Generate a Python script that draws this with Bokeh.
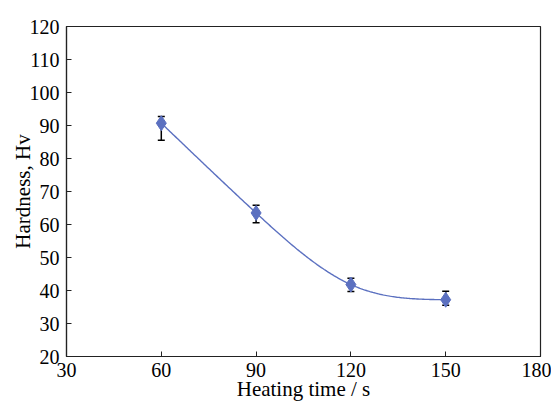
import numpy as np
from bokeh.plotting import figure
from bokeh.models import Whisker, ColumnDataSource, FixedTicker, Range1d
from bokeh.embed import file_html
from bokeh.resources import INLINE

heating_time = [60, 90, 120, 150]
hardness = [90.7, 63.5, 41.8, 37.2]
err_upper = [92.7, 65.8, 43.7, 39.8]
err_lower = [85.5, 60.5, 39.7, 35.5]
x_ticks = [30, 60, 90, 120, 150, 180]
y_ticks = [20, 30, 40, 50, 60, 70, 80, 90, 100, 110, 120]
x_title = "Heating time / s"
y_title = "Hardness, Hv"

def natural_spline(x, y, n=200):
    x = np.asarray(x, float); y = np.asarray(y, float)
    k = len(x); h = np.diff(x)
    A = np.zeros((k, k)); b = np.zeros(k)
    A[0, 0] = A[-1, -1] = 1
    for i in range(1, k - 1):
        A[i, i - 1] = h[i - 1]; A[i, i] = 2 * (h[i - 1] + h[i]); A[i, i + 1] = h[i]
        b[i] = 6 * ((y[i + 1] - y[i]) / h[i] - (y[i] - y[i - 1]) / h[i - 1])
    M = np.linalg.solve(A, b)
    xs = np.linspace(x[0], x[-1], n); ys = np.empty_like(xs)
    for j, t in enumerate(xs):
        i = min(np.searchsorted(x, t, side="right") - 1, k - 2)
        a = x[i + 1] - t; c = t - x[i]
        ys[j] = (M[i] * a**3 + M[i + 1] * c**3) / (6 * h[i]) + (y[i] / h[i] - M[i] * h[i] / 6) * a + (y[i + 1] / h[i] - M[i + 1] * h[i] / 6) * c
    return xs, ys

FONT = "Liberation Serif"
p = figure(width=551, height=408, output_backend="svg", toolbar_location=None,
           x_range=Range1d(30, 180), y_range=Range1d(20, 120),
           min_border_left=66, min_border_right=11, min_border_top=26, min_border_bottom=52)
p.grid.visible = False
p.outline_line_color = "#222222"
p.outline_line_width = 1.2

for ax in (p.xaxis[0], p.yaxis[0]):
    ax.major_tick_in = 5
    ax.major_tick_out = 0
    ax.minor_tick_in = 0
    ax.minor_tick_out = 0
    ax.axis_line_color = "#222222"
    ax.axis_line_width = 1.2
    ax.major_tick_line_color = "#222222"
    ax.major_label_text_font = FONT
    ax.major_label_text_font_size = "20px"
    ax.major_label_text_color = "black"
    ax.axis_label_text_font = FONT
    ax.axis_label_text_font_size = "21px"
    ax.axis_label_text_font_style = "normal"
    ax.axis_label_text_color = "black"

p.xaxis[0].ticker = FixedTicker(ticks=x_ticks)
p.yaxis[0].ticker = FixedTicker(ticks=y_ticks)
p.xaxis[0].axis_label = x_title
p.yaxis[0].axis_label = y_title
p.xaxis[0].major_label_standoff = 6
p.xaxis[0].axis_label_standoff = -3
p.yaxis[0].major_label_standoff = 7
p.yaxis[0].axis_label_standoff = -8

xs, ys = natural_spline(heating_time, hardness)
p.line(xs, ys, line_color="#5b70c0", line_width=1.4)

src = ColumnDataSource(dict(x=heating_time, y=hardness, up=err_upper, lo=err_lower))
w = Whisker(source=src, base="x", upper="up", lower="lo", line_color="black", line_width=1.5)
for head in (w.upper_head, w.lower_head):
    head.size = 7
    head.line_color = "black"
    head.line_width = 1.5
p.add_layout(w)

p.scatter("x", "y", source=src, marker="diamond", size=15, fill_color="#5b70c0", line_color="#5b70c0")

open("out.html", "w").write(file_html(p, INLINE))
